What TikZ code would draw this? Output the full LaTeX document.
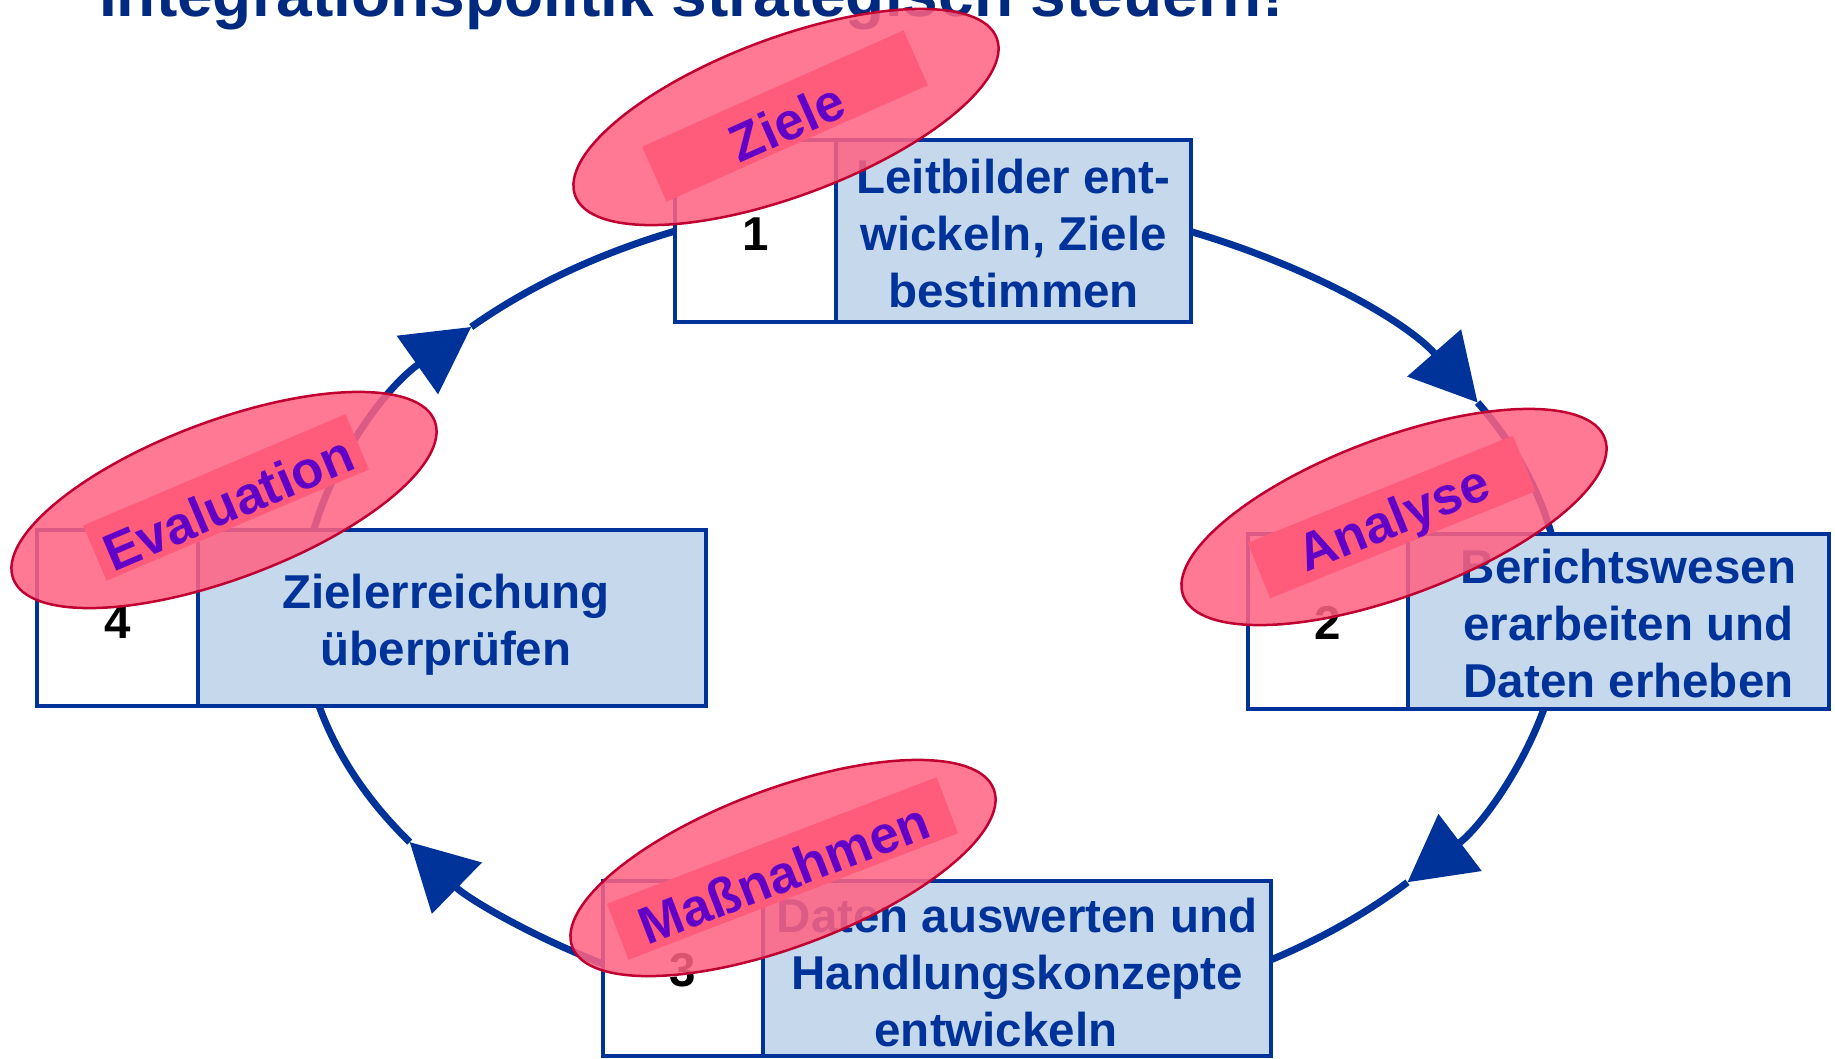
\documentclass[tikz,border=0pt]{standalone}
\usepackage{fontspec}
\setmainfont{Liberation Sans}
\usetikzlibrary{arrows.meta,shapes.geometric,calc}
\definecolor{navy}{RGB}{0,51,153}
\definecolor{titleblue}{RGB}{0,42,128}
\definecolor{cellblue}{RGB}{197,216,236}
\definecolor{pinkfill}{RGB}{255,98,130}
\definecolor{pinkedge}{RGB}{192,0,48}
\definecolor{rectpink}{RGB}{255,92,124}
\definecolor{lblpurple}{RGB}{98,0,200}
\begin{document}
\begin{tikzpicture}[x=1pt,y=1pt,
  cyc/.style={draw=navy, line width=7pt},
  cycarrow/.style={-{Triangle[length=66pt,width=70pt]}},
  numcell/.style={draw=navy, line width=4.5pt, fill=white, inner sep=0pt},
  txtcell/.style={draw=navy, line width=4.5pt, fill=cellblue, inner sep=0pt},
  numtext/.style={inner sep=0pt, font=\fontsize{47.5}{56}\selectfont\bfseries, text=black},
  celltext/.style={inner sep=0pt, align=center, font=\fontsize{47.5}{57}\selectfont\bfseries, text=navy},
  lblell/.style={ellipse, draw=pinkedge, line width=2.5pt, fill=pinkfill, fill opacity=0.86,
    minimum width=450pt, minimum height=158pt, inner sep=0pt},
  lblrect/.style={rectangle, fill=rectpink, minimum height=60pt, inner sep=0pt},
  lbltxt/.style={text=lblpurple, font=\fontsize{52.5}{60}\selectfont\bfseries, inner sep=0pt},
]
\useasboundingbox (0,0) rectangle (1835,-1058);
\clip (0,0) rectangle (1835,-1058);

% title
\node[anchor=base west, text=titleblue, font=\fontsize{64}{70}\selectfont\bfseries, inner sep=0pt]
  (title) at (99,-16) {Integrationspolitik strategisch steuern!};

% cycle
\coordinate (ctr) at (932,-610);
\foreach \n/\a in {e1/70, p1/30, f1/5, e2/-10, p2/-41, f2/-62, e3/-117, p3/-146, f3/-170, e4/172, p4/137, f4/110}
  \coordinate (\n) at ($(ctr)+(\a:630pt and 415pt)$);
\draw[cyc,cycarrow] (e1) arc[start angle=70, end angle=30, x radius=630pt, y radius=415pt];
\draw[cyc] (p1) arc[start angle=30, end angle=5, x radius=630pt, y radius=415pt];
\draw[cyc,cycarrow] (e2) arc[start angle=-10, end angle=-41, x radius=630pt, y radius=415pt];
\draw[cyc] (p2) arc[start angle=-41, end angle=-62, x radius=630pt, y radius=415pt];
\draw[cyc,cycarrow] (e3) arc[start angle=-117, end angle=-146, x radius=630pt, y radius=415pt];
\draw[cyc] (p3) arc[start angle=-146, end angle=-170, x radius=630pt, y radius=415pt];
\draw[cyc,cycarrow] (e4) arc[start angle=172, end angle=137, x radius=630pt, y radius=415pt];
\draw[cyc] (p4) arc[start angle=137, end angle=110, x radius=630pt, y radius=415pt];

% boxes
\node[numcell, minimum width=161pt, minimum height=182pt] (n1) at (755.5,-231) {};
\node[txtcell, minimum width=355pt, minimum height=182pt] (t1) at (1013.5,-231) {};
\node[numtext] (n1x) at ($(n1.center)+(0,-3)$) {1};
\node[celltext] (t1x) at ($(t1.center)+(0,-3)$) {Leitbilder ent-\\wickeln, Ziele\\bestimmen};

\node[numcell, minimum width=160pt, minimum height=175pt] (n2) at (1328,-621.5) {};
\node[txtcell, minimum width=421pt, minimum height=175pt] (t2) at (1618.5,-621.5) {};
\node[numtext] (n2x) at ($(n2.center)+(0,-1)$) {2};
\node[celltext] (t2x) at ($(t2.center)+(10,-2)$) {Berichtswesen\\erarbeiten und\\Daten erheben};

\node[numcell, minimum width=160pt, minimum height=175pt] (n3) at (683,-968.5) {};
\node[txtcell, minimum width=508pt, minimum height=175pt] (t3) at (1017,-968.5) {};
\node[numtext] (n3x) at ($(n3.center)+(0,-2)$) {3};
\node[celltext] (t3x) at ($(t3.center)+(0,-4)$) {Daten auswerten und\\Handlungskonzepte\\entwickeln\rule{42pt}{0pt}};

\node[numcell, minimum width=161pt, minimum height=176pt] (n4) at (117.5,-618) {};
\node[txtcell, minimum width=508pt, minimum height=176pt] (t4) at (452,-618) {};
\node[numtext] (n4x) at ($(n4.center)+(0,-4)$) {4};
\node[celltext] (t4x) at ($(t4.center)+(-6,-7)$) {Zielerreichung\\überprüfen};

% labels
\node[lblell, rotate=20.5] (zE) at (786,-117) {};
\node[lblrect, rotate=24, minimum width=286pt] (zR) at (785,-116) {};
\node[lbltxt, rotate=24] (zT) at (787,-122) {Ziele};

\node[lblell, rotate=20.5] (eE) at (224,-500) {};
\node[lblrect, rotate=23, minimum width=285pt] (eR) at (226,-497.5) {};
\node[lbltxt, rotate=23] (eT) at (228,-503) {Evaluation};

\node[lblell, rotate=20.5] (aE) at (1394,-517) {};
\node[lblrect, rotate=22, minimum width=286pt] (aR) at (1391.5,-517) {};
\node[lbltxt, rotate=22] (aT) at (1395,-522) {Analyse};

\node[lblell, rotate=20.5] (mE) at (783,-868) {};
\node[lblrect, rotate=21, minimum width=353pt] (mR) at (782.5,-868.5) {};
\node[lbltxt, rotate=21] (mT) at (784,-873) {Maßnahmen};
\end{tikzpicture}
\end{document}
